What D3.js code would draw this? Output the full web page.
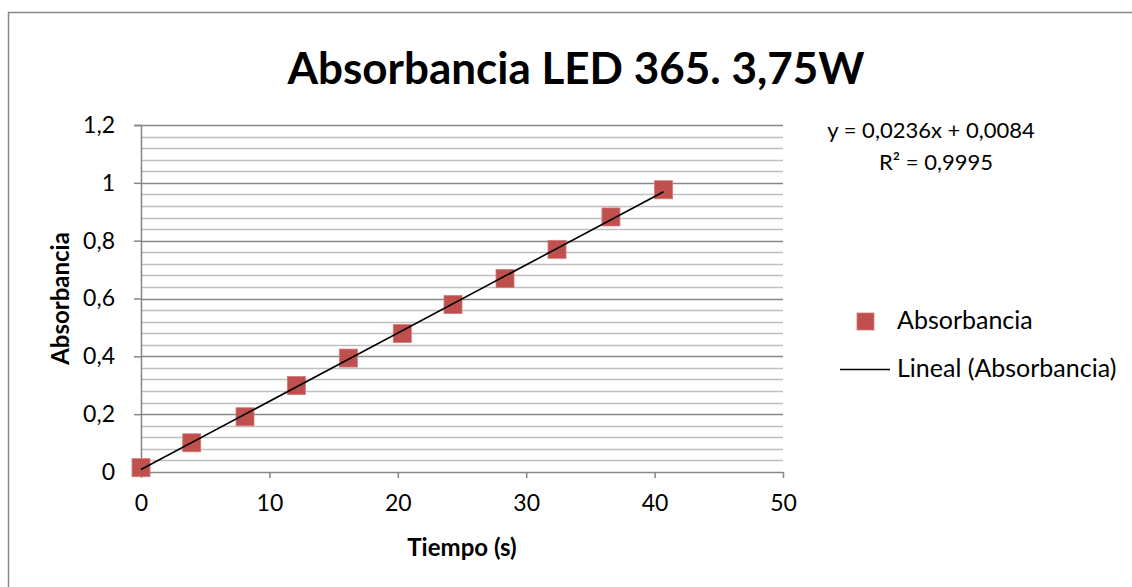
<!DOCTYPE html>
<html>
<head>
<meta charset="utf-8">
<script src="https://cdn.jsdelivr.net/npm/d3@7"></script>
<style>
    body { margin: 0; background: #fff; }
    text { font-family: Lato, "Open Sans", sans-serif; fill: #000; }
</style>
</head>
<body>
<div id="my_dataviz"></div>
<script>
// data
var tiempo = [0, 3.95, 8.1, 12.1, 16.15, 20.35, 24.3, 28.35, 32.4, 36.6, 40.7];
var absorbancia = [0.015, 0.101, 0.191, 0.299, 0.394, 0.479, 0.579, 0.669, 0.770, 0.882, 0.976];
var xTicks = [0, 10, 20, 30, 40, 50];
var yTicks = [0, 0.2, 0.4, 0.6, 0.8, 1, 1.2];
var slope = 0.0236;
var intercept = 0.0084;
var r2 = 0.9995;

var fmt = function(v) { return String(+v.toFixed(4)).replace(".", ","); };

// set the dimensions and margins of the graph
var W = 1132, H = 587;
var margin = {top: 125, left: 141},
    width = 642,
    height = 347;

var svg = d3.select("#my_dataviz")
  .append("svg")
    .attr("width", W)
    .attr("height", H);

// chart border
svg.append("rect")
    .attr("x", 8.5)
    .attr("y", 12.5)
    .attr("width", W + 10)
    .attr("height", H + 10)
    .attr("fill", "#fff")
    .attr("stroke", "#868686")
    .attr("stroke-width", 1.5);

var g = svg.append("g")
    .attr("transform", "translate(" + margin.left + "," + margin.top + ")");

var x = d3.scaleLinear()
    .domain([0, 50])
    .range([0, width]);

var y = d3.scaleLinear()
    .domain([0, 1.2])
    .range([height, 0]);

// minor gridlines every 0.04
var minor = d3.range(1, 30).map(function(i) { return i * 0.04; })
    .filter(function(v) { return Math.abs(v / 0.2 - Math.round(v / 0.2)) > 1e-6; });

g.selectAll(".minor")
    .data(minor)
    .enter()
    .append("line")
    .attr("x1", 0)
    .attr("x2", width)
    .attr("y1", function(d) { return Math.round(y(d)) + 0.5; })
    .attr("y2", function(d) { return Math.round(y(d)) + 0.5; })
    .attr("stroke", "#c0c0c0")
    .attr("stroke-width", 1.3);

// major gridlines
g.selectAll(".major")
    .data(yTicks.slice(1))
    .enter()
    .append("line")
    .attr("x1", 0)
    .attr("x2", width)
    .attr("y1", function(d) { return Math.round(y(d)) + 0.5; })
    .attr("y2", function(d) { return Math.round(y(d)) + 0.5; })
    .attr("stroke", "#868686")
    .attr("stroke-width", 1.3);

// Y axis
var yAxis = g.append("g")
    .call(d3.axisLeft(y).tickValues(yTicks).tickSize(7).tickPadding(19).tickFormat(fmt));
// X axis
var xAxis = g.append("g")
    .attr("transform", "translate(0," + height + ")")
    .call(d3.axisBottom(x).tickValues(xTicks).tickSize(6).tickPadding(17).tickFormat(fmt));

[yAxis, xAxis].forEach(function(a) {
    a.select(".domain").attr("stroke", "#868686").attr("stroke-width", 1.5);
    a.selectAll(".tick line").attr("stroke", "#868686").attr("stroke-width", 1.5);
    a.selectAll(".tick text").style("font-size", "23px").attr("fill", "#000");
});
xAxis.select(".domain").attr("d", "M0,0.5H" + width);

var trend = d3.line()
    .x(function(d) { return x(d); })
    .y(function(d) { return y(slope * d + intercept); });
var lineX = [0, d3.max(tiempo)];

// markers
var s = 18;
g.selectAll(".pt")
    .data(tiempo)
    .enter()
    .append("rect")
    .attr("x", function(d) { return x(d) - s / 2; })
    .attr("y", function(d, i) { return y(absorbancia[i]) - s / 2; })
    .attr("width", s)
    .attr("height", s)
    .attr("fill", "#c0504d")
    .attr("stroke", "#d07a77")
    .attr("stroke-width", 0.8);

// trendline on top of the markers
g.append("path")
    .datum(lineX)
    .attr("d", trend)
    .attr("stroke", "#000")
    .attr("stroke-width", 1.6)
    .attr("fill", "none");

// title
svg.append("text")
    .attr("x", 576)
    .attr("y", 84)
    .attr("text-anchor", "middle")
    .style("font-size", "44px")
    .style("font-weight", "bold")
    .text("Absorbancia LED 365. 3,75W");

// axis titles
svg.append("text")
    .attr("x", margin.left + width / 2)
    .attr("y", 556)
    .attr("text-anchor", "middle")
    .style("font-size", "24px")
    .style("font-weight", "bold")
    .text("Tiempo (s)");

svg.append("text")
    .attr("transform", "translate(69," + (margin.top + height / 2) + ") rotate(-90)")
    .attr("text-anchor", "middle")
    .style("font-size", "24px")
    .style("font-weight", "bold")
    .text("Absorbancia");

// equation
svg.append("text")
    .attr("x", 931)
    .attr("y", 138)
    .attr("text-anchor", "middle")
    .style("font-size", "22px")
    .text("y = " + fmt(slope) + "x + " + fmt(intercept));

svg.append("text")
    .attr("x", 936)
    .attr("y", 170)
    .attr("text-anchor", "middle")
    .style("font-size", "22px")
    .text("R² = " + fmt(r2));

// legend
var legend = svg.append("g");
legend.append("rect")
    .attr("x", 857)
    .attr("y", 313)
    .attr("width", 17)
    .attr("height", 17)
    .attr("fill", "#c0504d")
    .attr("stroke", "#d07a77")
    .attr("stroke-width", 0.8);
legend.append("text")
    .attr("x", 897)
    .attr("y", 329)
    .style("font-size", "25px")
    .text("Absorbancia");
legend.append("line")
    .attr("x1", 840)
    .attr("x2", 890)
    .attr("y1", 369.5)
    .attr("y2", 369.5)
    .attr("stroke", "#000")
    .attr("stroke-width", 1.5);
legend.append("text")
    .attr("x", 897)
    .attr("y", 377)
    .style("font-size", "25px")
    .text("Lineal (Absorbancia)");
</script>
</body>
</html>
